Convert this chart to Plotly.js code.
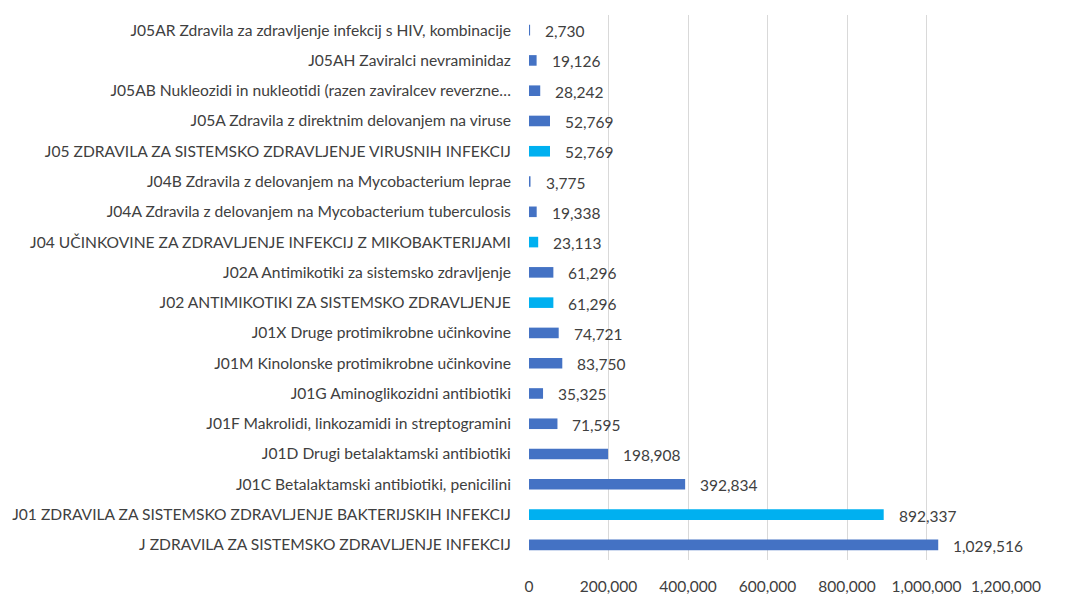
<!DOCTYPE html>
<html>
<head>
<meta charset="utf-8">
<script src="https://cdn.plot.ly/plotly-3.0.1.min.js"></script>
<style>html,body{margin:0;padding:0;background:#fff;}#chart{width:1087px;height:594px;}</style>
</head>
<body>
<div id="chart"></div>
<script>
// Categories, top to bottom as shown
const categories = [
  "J05AR Zdravila za zdravljenje infekcij s HIV, kombinacije",
  "J05AH Zaviralci nevraminidaz",
  "J05AB Nukleozidi in nukleotidi (razen zaviralcev reverzne…",
  "J05A Zdravila z direktnim delovanjem na viruse",
  "J05 ZDRAVILA ZA SISTEMSKO ZDRAVLJENJE VIRUSNIH INFEKCIJ",
  "J04B Zdravila z delovanjem na Mycobacterium leprae",
  "J04A Zdravila z delovanjem na Mycobacterium tuberculosis",
  "J04 UČINKOVINE ZA ZDRAVLJENJE INFEKCIJ Z MIKOBAKTERIJAMI",
  "J02A Antimikotiki za sistemsko zdravljenje",
  "J02 ANTIMIKOTIKI ZA SISTEMSKO ZDRAVLJENJE",
  "J01X Druge protimikrobne učinkovine",
  "J01M Kinolonske protimikrobne učinkovine",
  "J01G Aminoglikozidni antibiotiki",
  "J01F Makrolidi, linkozamidi in streptogramini",
  "J01D Drugi betalaktamski antibiotiki",
  "J01C Betalaktamski antibiotiki, penicilini",
  "J01 ZDRAVILA ZA SISTEMSKO ZDRAVLJENJE BAKTERIJSKIH INFEKCIJ",
  "J ZDRAVILA ZA SISTEMSKO ZDRAVLJENJE INFEKCIJ"
];
const values = [2730, 19126, 28242, 52769, 52769, 3775, 19338, 23113, 61296, 61296, 74721, 83750, 35325, 71595, 198908, 392834, 892337, 1029516];
const xTickValues = [0, 200000, 400000, 600000, 800000, 1000000, 1200000];
const xTickLabels = ["0", "200,000", "400,000", "600,000", "800,000", "1,000,000", "1,200,000"];

const DARK = "#4472C4", CYAN = "#00B0F0", TXT = "#404040";
const FONT = "Lato, 'Open Sans', sans-serif";
const colors = categories.map(c => /^J0\d /.test(c) ? CYAN : DARK);
const fmt = v => v.toLocaleString("en-US");

const trace = {
  type: "bar", orientation: "h",
  x: values, y: categories,
  marker: { color: colors, line: { width: 0 } },
  hoverinfo: "x+y"
};

const annotations = categories.map((c, i) => ({
  x: values[i], y: c, xref: "x", yref: "y",
  text: fmt(values[i]), showarrow: false,
  xanchor: "left", yanchor: "middle", xshift: 13, yshift: -1,
  font: { family: FONT, size: 15.5, color: TXT }
}));

const layout = {
  width: 1087, height: 594,
  margin: { l: 529, r: 81, t: 15, b: 34 },
  paper_bgcolor: "#fff", plot_bgcolor: "#fff",
  bargap: 0.65,
  showlegend: false,
  xaxis: {
    range: [0, 1200000], tickvals: xTickValues, ticktext: xTickLabels,
    showgrid: true, gridcolor: "#D9D9D9", gridwidth: 1, zeroline: false,
    showline: false, ticks: "outside", ticklen: 12, tickcolor: "rgba(0,0,0,0)", fixedrange: true,
    tickfont: { family: FONT, size: 15.5, color: TXT }
  },
  yaxis: {
    type: "category", autorange: "reversed",
    showgrid: false, zeroline: false, showline: false,
    ticks: "outside", ticklen: 14, tickcolor: "rgba(0,0,0,0)",
    tickfont: { family: FONT, size: 15.6, color: TXT }
  },
  annotations: annotations
};

Plotly.newPlot("chart", [trace], layout, { displayModeBar: false, staticPlot: true });
</script>
</body>
</html>
